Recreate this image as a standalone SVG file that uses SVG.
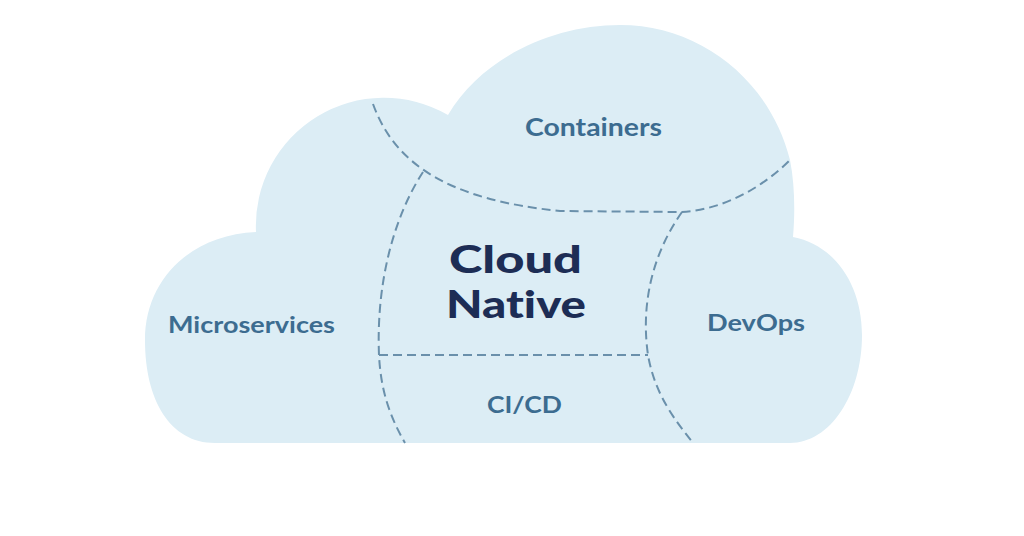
<svg xmlns="http://www.w3.org/2000/svg" width="1024" height="536" viewBox="0 0 1024 536">
<style>
.cloud{fill:#dcedf5;stroke:none}
.div{fill:none;stroke:#6a90ab;stroke-width:2;stroke-dasharray:9 5;stroke-linecap:butt}
.lbl{font-family:Lato,"Open Sans","Liberation Sans",sans-serif;font-weight:700;fill:#3c6c90;text-anchor:middle;font-variant-ligatures:none}
.main{font-family:Lato,"Open Sans","Liberation Sans",sans-serif;font-weight:900;fill:#1d2d55;text-anchor:middle;font-variant-ligatures:none}
</style>
<rect width="1024" height="536" fill="#ffffff"/>
<g id="cloud">
<path class="cloud" d="M 215 443 C 170 443 145 400 145 340 C 145 280 190 235 256 232 A 128 128 0 0 1 448 115 C 480 60 550 25 620 25 C 700 25 770 80 790 160 C 795 185 795 215 793 237 C 835 245 862 285 862 335 C 862 395 830 443 790 443 Z"/>
</g>
<g id="connectors">
<path class="div" d="M 373 104 C 395 165 450 200 560 211 L 682 212 C 720 210 760 190 790 160"/>
<path class="div" d="M 423 172 C 395 215 376 280 379 355 C 381 395 392 420 405 443"/>
<path class="div" d="M 682 212 C 655 250 640 300 648 355 C 655 395 675 420 693 443"/>
<path class="div" d="M 379 355 L 648 355"/>
</g>
<g id="containers"><text class="lbl" x="593.5" y="136" font-size="25" textLength="137" lengthAdjust="spacingAndGlyphs">Containers</text></g>
<g id="microservices"><text class="lbl" x="251.5" y="333" font-size="23" textLength="167" lengthAdjust="spacingAndGlyphs">Microservices</text></g>
<g id="devops"><text class="lbl" x="756" y="331" font-size="23" textLength="98" lengthAdjust="spacingAndGlyphs">DevOps</text></g>
<g id="cicd"><text class="lbl" x="524.5" y="413" font-size="23" textLength="75" lengthAdjust="spacingAndGlyphs">CI/CD</text></g>
<g id="cloud-native">
<text class="main" x="515.5" y="273" font-size="38" textLength="133" lengthAdjust="spacingAndGlyphs">Cloud</text>
<text class="main" x="516" y="318" font-size="38" textLength="140" lengthAdjust="spacingAndGlyphs">Native</text>
</g>
</svg>
